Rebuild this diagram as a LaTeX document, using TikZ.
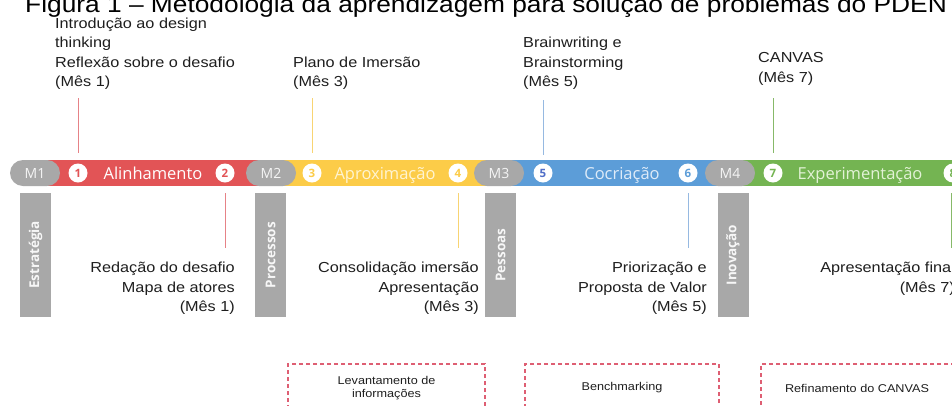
\documentclass[tikz,border=0pt]{standalone}
\usepackage{fontspec}
\setmainfont{Liberation Sans}
\newfontfamily\labfont[FakeStretch=1.12]{Liberation Sans}
\newfontfamily\barfont{Open Sans}
\usetikzlibrary{shapes.misc}
\definecolor{cred}{RGB}{226,84,86}
\definecolor{cyel}{RGB}{252,204,72}
\definecolor{cblue}{RGB}{92,157,216}
\definecolor{cgreen}{RGB}{116,180,82}
\definecolor{cgray}{RGB}{168,168,168}
\definecolor{lred}{RGB}{230,130,135}
\definecolor{lyel}{RGB}{248,212,115}
\definecolor{lblue}{RGB}{150,185,225}
\definecolor{lgreen}{RGB}{135,185,105}
\definecolor{dashred}{RGB}{222,95,115}
\definecolor{txt}{RGB}{30,30,30}
\definecolor{tyel}{RGB}{255,244,210}
\definecolor{tblue}{RGB}{222,235,248}
\definecolor{tgreen}{RGB}{226,242,214}
\definecolor{nblue}{RGB}{80,110,200}
\begin{document}
\begin{tikzpicture}[x=1pt,y=-1pt,
  seg/.style={draw=none, minimum height=26pt, inner sep=0, outer sep=0},
  pill/.style={rounded rectangle, fill=cgray, minimum width=50pt, minimum height=26pt, inner sep=0,
    text=white!92!gray, font=\barfont\fontsize{14}{14}\selectfont},
  segtext/.style={anchor=base, inner sep=0, font=\barfont\fontsize{16.5}{16.5}\selectfont},
  numc/.style={circle, fill=white, minimum size=19pt, inner sep=0, font=\barfont\bfseries\fontsize{11.5}{11.5}\selectfont},
  vbar/.style={rotate=90, fill=cgray, minimum width=124pt, minimum height=31pt, inner sep=0,
    text=white!94!gray, font=\barfont\bfseries\fontsize{13.5}{14}\selectfont},
  toplab/.style={anchor=base west, inner sep=0, align=left, text=txt, font=\labfont\fontsize{14.5}{19.5}\selectfont},
  botlab/.style={anchor=base east, inner sep=0, align=right, text=txt, font=\labfont\fontsize{14.5}{19.5}\selectfont},
  tick/.style={line width=1pt},
  dbox/.style={draw=dashred, line width=1.2pt, dash pattern=on 4pt off 3pt, minimum height=48pt, inner sep=0,
    align=center, text=txt, font=\labfont\fontsize{11.3}{13}\selectfont}
]
\useasboundingbox (0,0) rectangle (952,405);
\clip (0,0) rectangle (952,405);

% title (cut off at the top)
\node[anchor=base west, inner sep=0, text=black, font=\labfont\fontsize{23.5}{23.5}\selectfont] (title) at (25,12)
  {Figura 1 – Metodologia da aprendizagem para solução de problemas do PDEN};

% coloured bar segments
\node[seg, fill=cred,   minimum width=236pt] (sa) at (153,173) {};
\node[seg, fill=cyel,   minimum width=229pt] (sb) at (385.5,173) {};
\node[seg, fill=cblue,  minimum width=230pt] (sc) at (615,173) {};
\node[seg, fill=cgreen, minimum width=240pt] (sd) at (850,173) {};

% milestone pills
\node[pill] (m1) at (35,173) {M1};
\node[pill] (m2) at (271,173) {M2};
\node[pill] (m3) at (499,173) {M3};
\node[pill] (m4) at (730,173) {M4};

% phase names
\node[segtext, text=white] (ta) at (153,179) {Alinhamento};
\node[segtext, text=tyel] (tb) at (385,179) {Aproximação};
\node[segtext, text=tblue] (tc) at (622,179) {Cocriação};
\node[segtext, text=tgreen] (td) at (860,179) {Experimentação};

% numbered circles
\node[numc, text=cred] (n1) at (78,173) {1};
\node[numc, text=cred] (n2) at (225,173) {2};
\node[numc, text=cyel] (n3) at (312,173) {3};
\node[numc, text=cyel] (n4) at (458,173) {4};
\node[numc, text=nblue] (n5) at (543,173) {5};
\node[numc, text=cblue] (n6) at (688,173) {6};
\node[numc, text=cgreen] (n7) at (773,173) {7};
\node[numc, text=cgreen] (n8) at (953,173) {8};

% vertical grey bars
\node[vbar] (v1) at (35.5,255) {Estratégia};
\node[vbar] (v2) at (270.5,255) {Processos};
\node[vbar] (v3) at (500.5,255) {Pessoas};
\node[vbar] (v4) at (733,255) {Inovação};

% tick lines
\coordinate (u1a) at (78,98);  \coordinate (u1b) at (78,153);
\coordinate (u3a) at (312,98); \coordinate (u3b) at (312,153);
\coordinate (u5a) at (543,100); \coordinate (u5b) at (543,155);
\coordinate (u7a) at (773,98); \coordinate (u7b) at (773,153);
\coordinate (d2a) at (225,193); \coordinate (d2b) at (225,248);
\coordinate (d4a) at (458,193); \coordinate (d4b) at (458,248);
\coordinate (d6a) at (688,193); \coordinate (d6b) at (688,248);
\coordinate (d8a) at (951.5,193); \coordinate (d8b) at (951.5,248);
\draw[tick, lred] (u1a) -- (u1b);
\draw[tick, lyel] (u3a) -- (u3b);
\draw[tick, lblue] (u5a) -- (u5b);
\draw[tick, lgreen] (u7a) -- (u7b);
\draw[tick, lred] (d2a) -- (d2b);
\draw[tick, lyel] (d4a) -- (d4b);
\draw[tick, lblue] (d6a) -- (d6b);
\draw[tick, lgreen] (d8a) -- (d8b);

% labels above (anchor = baseline of the last line)
\node[toplab] (a1) at (55,86.5) {Introdução ao design\\thinking\\Reflexão sobre o desafio\\(Mês 1)};
\node[toplab] (a3) at (293,86.5) {Plano de Imersão\\(Mês 3)};
\node[toplab] (a5) at (523,86.5) {Brainwriting e\\Brainstorming\\(Mês 5)};
\node[toplab] (a7) at (758,82) {CANVAS\\(Mês 7)};

% labels below (anchor = baseline of the last line)
\node[botlab] (b2) at (235,311.5) {Redação do desafio\\Mapa de atores\\(Mês 1)};
\node[botlab] (b4) at (479,311.5) {Consolidação imersão\\Apresentação\\(Mês 3)};
\node[botlab] (b6) at (707,311.5) {Priorização e\\Proposta de Valor\\(Mês 5)};
\node[botlab] (b8) at (955,292) {Apresentação final\\(Mês 7)};

% dashed boxes
\node[dbox, minimum width=197pt] (x1) at (386.5,388) {Levantamento de\\informações};
\node[dbox, minimum width=194pt] (x2) at (622,388) {Benchmarking};
\node[dbox, minimum width=192pt] (x3) at (857,388) {Refinamento do CANVAS};
\end{tikzpicture}
\end{document}
